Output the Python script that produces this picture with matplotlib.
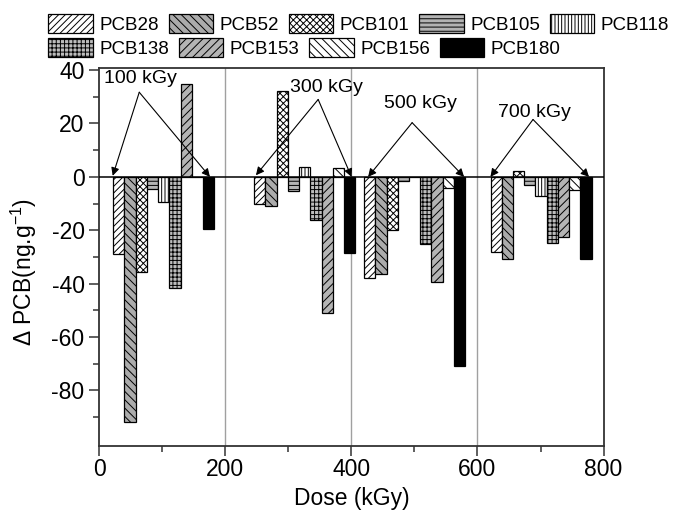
import matplotlib
matplotlib.use("Agg")
import matplotlib.pyplot as plt
from matplotlib.patches import Patch
from matplotlib.ticker import MultipleLocator, FixedLocator

plt.rcParams['font.family'] = ['Liberation Sans', 'DejaVu Sans']
plt.rcParams['mathtext.fontset'] = 'custom'
plt.rcParams['mathtext.rm'] = 'Liberation Sans'
plt.rcParams['mathtext.it'] = 'Liberation Sans:italic'
plt.rcParams['axes.unicode_minus'] = False
plt.rcParams['hatch.linewidth'] = 0.7

# Change in PCB concentration (ng/g) per congener at each absorbed dose
congeners = ['PCB28', 'PCB52', 'PCB101', 'PCB105', 'PCB118',
             'PCB138', 'PCB153', 'PCB156', 'PCB180']
dose_labels = ['100 kGy', '300 kGy', '500 kGy', '700 kGy']
group_centers = [102.5, 326.0, 500.3, 700.8]

delta_100 = [-29.0, -92.0, -35.6, -4.7, -9.3, -41.8, 34.7, 0.0, -19.4]
delta_300 = [-10.3, -10.8, 32.3, -5.3, 3.8, -16.3, -51.1, 3.2, -28.5]
delta_500 = [-37.9, -36.4, -19.9, -1.5, 0.0, -25.1, -39.4, -4.3, -70.9]
delta_700 = [-28.3, -30.9, 2.3, -3.1, -7.2, -24.8, -22.4, -4.9, -30.7]
deltas = [delta_100, delta_300, delta_500, delta_700]

# fill colour and hatch for each congener
styles = {
    'PCB28':  ('white',   '/////'),
    'PCB52':  ('#ababab', '\\\\\\\\'),
    'PCB101': ('white',   'xxxxx'),
    'PCB105': ('#b4b4b4', '----'),
    'PCB118': ('white',   '|||||'),
    'PCB138': ('#bdbdbd', '++++'),
    'PCB153': ('#b4b4b4', '////'),
    'PCB156': ('white',   '\\\\\\\\'),
    'PCB180': ('black',   ''),
}

bar_w = 17.8

fig = plt.figure(figsize=(6.75, 5.12), dpi=100)
ax = fig.add_axes([0.1468, 0.1295, 0.8942 - 0.1468, 0.8678 - 0.1295])

for center, vals in zip(group_centers, deltas):
    for i, (name, v) in enumerate(zip(congeners, vals)):
        fc, hatch = styles[name]
        ax.bar(center + (i - 4) * bar_w, v, width=bar_w, facecolor=fc,
               edgecolor='black', hatch=hatch, linewidth=0.9, zorder=3)

# vertical separators and zero line
for xv in (200, 400, 600):
    ax.axvline(xv, color='#a0a0a0', lw=1.0, zorder=1)
ax.axhline(0, color='black', lw=1.1, zorder=4)

# dose annotations with arrows to the first and last bar of each group
text_pos = [(65.3, 35.3), (360.2, 31.9), (509.6, 25.7), (690.0, 22.5)]
arrow_src = [(63.7, 31.7), (347.4, 29.0), (496.4, 20.3), (688.1, 21.5)]
arrow_tips = [[(21.6, 0.4), (175.8, 0.0)],
              [(248.7, 0.6), (400.3, 0.0)],
              [(426.6, 0.0), (578.8, 0.0)],
              [(620.6, 0.0), (776.9, 0.0)]]
for lab, tp, src, tips in zip(dose_labels, text_pos, arrow_src, arrow_tips):
    ax.text(tp[0], tp[1], lab, ha='center', va='baseline', fontsize=14, zorder=6)
    for tip in tips:
        ax.annotate('', xy=tip, xytext=src,
                    arrowprops=dict(arrowstyle='-|>', color='black', lw=0.8,
                                    mutation_scale=12, shrinkA=0, shrinkB=0),
                    zorder=6)

ax.set_xlim(0, 800)
ax.set_ylim(-100.7, 40.9)
ax.xaxis.set_major_locator(MultipleLocator(200))
ax.xaxis.set_minor_locator(MultipleLocator(100))
ax.yaxis.set_major_locator(FixedLocator([-80, -60, -40, -20, 0, 20, 40]))
ax.yaxis.set_minor_locator(FixedLocator([-90, -70, -50, -30, -10, 10, 30]))
ax.tick_params(which='major', direction='out', length=7, width=1.1,
               color='#333333', labelsize=16.5)
ax.tick_params(axis='x', which='major', pad=2)
ax.tick_params(which='minor', direction='out', length=4, width=1.1,
               color='#333333')
for sp in ax.spines.values():
    sp.set_color('#333333')
    sp.set_linewidth(1.3)

ax.set_xlabel('Dose (kGy)', fontsize=16.5, labelpad=4)
ax.set_ylabel('Δ PCB(ng.g$^{-1}$)', fontsize=16.5)
ax.yaxis.set_label_coords(-0.12, 0.46)

# two legend rows above the axes
handles = {n: Patch(facecolor=styles[n][0], edgecolor='black',
                    hatch=styles[n][1], linewidth=0.9) for n in congeners}
row1 = congeners[:5]
row2 = congeners[5:]
leg_kw = dict(frameon=False, fontsize=13.5, handlelength=2.37, handleheight=1.12,
              handletextpad=0.35, columnspacing=0.52, borderpad=0,
              borderaxespad=0, loc='center left')
leg1 = fig.legend([handles[n] for n in row1], row1, ncol=5,
                  bbox_to_anchor=(48.3 / 675, 1 - 24 / 512), **leg_kw)
leg2 = fig.legend([handles[n] for n in row2], row2, ncol=4,
                  bbox_to_anchor=(48.3 / 675, 1 - 48 / 512), **leg_kw)

fig.savefig('out.png', dpi=100)
